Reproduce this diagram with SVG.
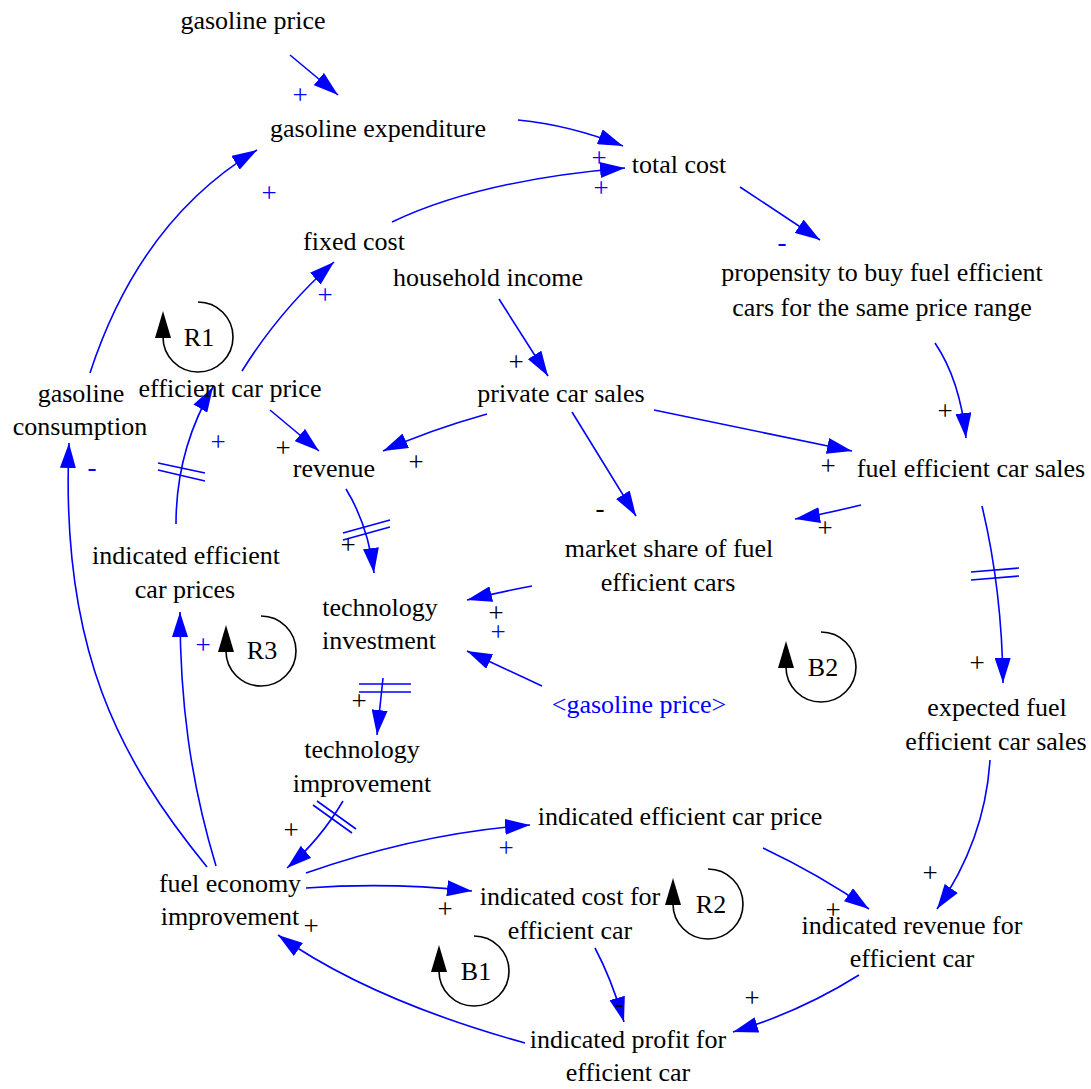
<svg xmlns="http://www.w3.org/2000/svg" width="1091" height="1089" viewBox="0 0 1091 1089">
<style>
.n{font-family:"Liberation Serif","Times New Roman",serif;font-size:26px;fill:#000;text-anchor:middle}
.sh{font-family:"Liberation Serif","Times New Roman",serif;font-size:26px;fill:#0000ff;text-anchor:middle}
.pb{font-family:"Liberation Serif","Times New Roman",serif;font-size:27px;fill:#0000ff;text-anchor:middle}
.pk{font-family:"Liberation Serif","Times New Roman",serif;font-size:27px;fill:#000;text-anchor:middle}
.c{fill:none;stroke:#0000ff;stroke-width:1.6;marker-end:url(#ah)}
.d{fill:none;stroke:#0000ff;stroke-width:1.6}
.lp{fill:none;stroke:#000;stroke-width:1.6}
.lt{font-family:"Liberation Serif","Times New Roman",serif;font-size:26px;fill:#000;text-anchor:middle}
</style>
<defs>
<marker id="ah" viewBox="0 0 25 16" refX="25" refY="8" markerWidth="25" markerHeight="16" markerUnits="userSpaceOnUse" orient="auto">
<path d="M0,0 L25,8 L0,16 z" fill="#0000ff"/>
</marker>
<g id="loop">
<path class="lp" d="M0,-35 A35,35 0 1 1 -35,0"/>
<path d="M-35,-26 L-43,1 L-27,1 z" fill="#000"/>
</g>
</defs>
<rect width="1091" height="1089" fill="#fff"/>

<g id="connectors">
<path class="c" d="M290,55 L338,95"/>
<path class="c" d="M518,120 Q570,125 623,146"/>
<path class="c" d="M392,222 Q480,180 625,168"/>
<path class="c" d="M740,187 L820,240"/>
<path class="c" d="M935,343 Q960,380 966,438"/>
<path class="c" d="M499,299 L548,376"/>
<path class="c" d="M487,414 Q430,430 383,451"/>
<path class="c" d="M572,412 L636,516"/>
<path class="c" d="M654,410 L852,451"/>
<path class="c" d="M861,505 Q820,515 795,519"/>
<path class="c" d="M982,506 Q1002,590 1003,683"/>
<path class="c" d="M242,371 Q280,310 334,262"/>
<path class="c" d="M270,410 L319,451"/>
<path class="c" d="M176,524 Q176,450 213,387"/>
<path class="c" d="M346,489 Q368,525 374,573"/>
<path class="c" d="M532,586 Q500,592 467,600"/>
<path class="c" d="M542,686 L467,651"/>
<path class="c" d="M383,678 L377,735"/>
<path class="c" d="M343,801 Q320,840 287,868"/>
<path class="c" d="M306,873 Q420,833 530,825"/>
<path class="c" d="M306,888 Q390,882 472,891"/>
<path class="c" d="M595,948 Q612,980 624,1022"/>
<path class="c" d="M859,975 Q800,1012 733,1032"/>
<path class="c" d="M763,848 Q820,875 869,909"/>
<path class="c" d="M990,760 Q985,840 937,909"/>
<path class="c" d="M525,1043 Q370,1000 278,935"/>
<path class="c" d="M207,867 C120,760 60,650 69,443"/>
<path class="c" d="M216,866 C190,780 180,700 180,612"/>
<path class="c" d="M90,373 Q140,220 257,150"/>
<!-- delay marks -->
<path class="d" d="M158,463 L205,473 M158,470 L205,481"/>
<path class="d" d="M343,533 L390,520 M343,540 L390,527"/>
<path class="d" d="M359,684 L411,684 M359,692 L411,692"/>
<path class="d" d="M313,805 L352,833 M317,801 L356,829"/>
<path class="d" d="M971,572 L1019,568 M971,580 L1019,576"/>
<!-- polarities -->
<text class="pb" x="300" y="104">+</text>
<text class="pb" x="599" y="167">+</text>
<text class="pb" x="601" y="197">+</text>
<text class="pb" x="782" y="251">-</text>
<text class="pk" x="945" y="420">+</text>
<text class="pk" x="516" y="371">+</text>
<text class="pk" x="416" y="471">+</text>
<text class="pk" x="600" y="517">-</text>
<text class="pk" x="828" y="475">+</text>
<text class="pk" x="825" y="537">+</text>
<text class="pb" x="325" y="304">+</text>
<text class="pk" x="283" y="457">+</text>
<text class="pb" x="218" y="451">+</text>
<text class="pb" x="92" y="476">-</text>
<text class="pb" x="269" y="202">+</text>
<text class="pk" x="348" y="554">+</text>
<text class="pk" x="496" y="622">+</text>
<text class="pb" x="498" y="641">+</text>
<text class="pb" x="203" y="654">+</text>
<text class="pk" x="977" y="672">+</text>
<text class="pk" x="359" y="710">+</text>
<text class="pk" x="291" y="839">+</text>
<text class="pb" x="506" y="857">+</text>
<text class="pk" x="445" y="918">+</text>
<text class="pk" x="311" y="935">+</text>
<text class="pk" x="930" y="882">+</text>
<text class="pk" x="833" y="919">+</text>
<text class="pk" x="619" y="1012">-</text>
<text class="pk" x="752" y="1007">+</text>
</g>

<g id="gasoline_price"><text class="n" x="253" y="29">gasoline price</text></g>
<g id="gasoline_expenditure"><text class="n" x="378" y="137">gasoline expenditure</text></g>
<g id="total_cost"><text class="n" x="679" y="173">total cost</text></g>
<g id="fixed_cost"><text class="n" x="354" y="250">fixed cost</text></g>
<g id="household_income"><text class="n" x="488" y="286">household income</text></g>
<g id="propensity"><text class="n" x="882" y="281">propensity to buy fuel efficient</text><text class="n" x="882" y="316">cars for the same price range</text></g>
<g id="private_car_sales"><text class="n" x="561" y="402">private car sales</text></g>
<g id="gasoline_consumption"><text class="n" x="81" y="402">gasoline</text><text class="n" x="80" y="435">consumption</text></g>
<g id="efficient_car_price"><text class="n" x="230" y="397">efficient car price</text></g>
<g id="revenue"><text class="n" x="334" y="477">revenue</text></g>
<g id="fuel_efficient_car_sales"><text class="n" x="971" y="477">fuel efficient car sales</text></g>
<g id="market_share"><text class="n" x="669" y="557">market share of fuel</text><text class="n" x="668" y="591">efficient cars</text></g>
<g id="indicated_efficient_car_prices"><text class="n" x="186" y="564">indicated efficient</text><text class="n" x="185" y="598">car prices</text></g>
<g id="technology_investment"><text class="n" x="380" y="616">technology</text><text class="n" x="379" y="649">investment</text></g>
<g id="gasoline_price_shadow"><text class="sh" x="639" y="713">&lt;gasoline price&gt;</text></g>
<g id="expected_fuel_efficient_car_sales"><text class="n" x="997" y="716">expected fuel</text><text class="n" x="996" y="750">efficient car sales</text></g>
<g id="technology_improvement"><text class="n" x="362" y="758">technology</text><text class="n" x="362" y="792">improvement</text></g>
<g id="indicated_efficient_car_price"><text class="n" x="680" y="825">indicated efficient car price</text></g>
<g id="fuel_economy_improvement"><text class="n" x="230" y="892">fuel economy</text><text class="n" x="230" y="925">improvement</text></g>
<g id="indicated_cost"><text class="n" x="570" y="905">indicated cost for</text><text class="n" x="570" y="939">efficient car</text></g>
<g id="indicated_revenue"><text class="n" x="912" y="934">indicated revenue for</text><text class="n" x="912" y="967">efficient car</text></g>
<g id="indicated_profit"><text class="n" x="628" y="1048">indicated profit for</text><text class="n" x="628" y="1081">efficient car</text></g>

<g id="loop_R1"><use href="#loop" x="198" y="337"/><text class="lt" x="199" y="346">R1</text></g>
<g id="loop_R3"><use href="#loop" x="261" y="651"/><text class="lt" x="262" y="659">R3</text></g>
<g id="loop_B2"><use href="#loop" x="821" y="667"/><text class="lt" x="823" y="676">B2</text></g>
<g id="loop_R2"><use href="#loop" x="708" y="904"/><text class="lt" x="711" y="913">R2</text></g>
<g id="loop_B1"><use href="#loop" x="474" y="971"/><text class="lt" x="476" y="980">B1</text></g>
</svg>
